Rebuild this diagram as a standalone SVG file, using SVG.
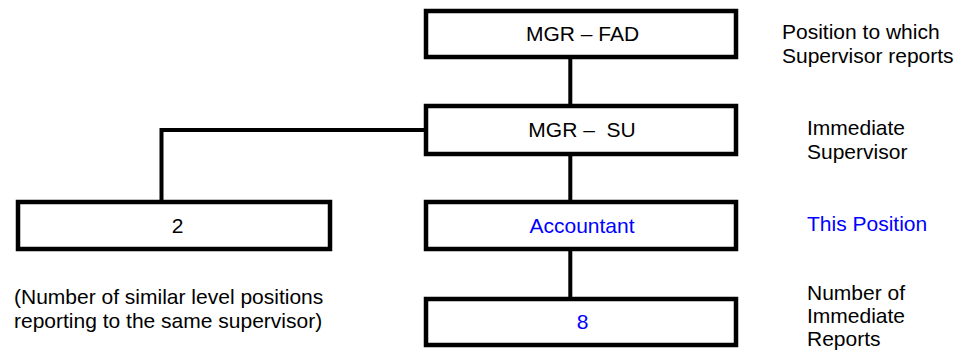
<svg xmlns="http://www.w3.org/2000/svg" width="966" height="352" viewBox="0 0 966 352">
<style>
.box{fill:#fff;stroke:#000;stroke-width:4.5}
.conn{fill:none;stroke:#000;stroke-width:4}
text{font-family:"Liberation Sans",Arial,sans-serif;font-size:21px;fill:#000;white-space:pre}
.c{text-anchor:middle}
.blue{fill:#0000ff}
</style>
<rect width="966" height="352" fill="#fff"/>
<g id="connectors">
<line class="conn" x1="570.3" y1="57" x2="570.3" y2="106"/>
<line class="conn" x1="570.3" y1="154" x2="570.3" y2="202"/>
<line class="conn" x1="570.3" y1="249" x2="570.3" y2="299"/>
<polyline class="conn" points="426,130 161.5,130 161.5,202"/>
</g>
<g id="mgr-fad">
<rect class="box" x="426" y="11" width="310" height="46"/>
<text class="c" x="582.5" y="41">MGR – FAD</text>
</g>
<g id="mgr-su">
<rect class="box" x="426" y="106" width="310" height="48"/>
<text class="c" x="582" y="137">MGR –  SU</text>
</g>
<g id="peers">
<rect class="box" x="18" y="202" width="312" height="47"/>
<text class="c" x="177.5" y="233">2</text>
</g>
<g id="accountant">
<rect class="box" x="426" y="202" width="310" height="47"/>
<text class="c blue" x="582" y="233">Accountant</text>
</g>
<g id="reports">
<rect class="box" x="426" y="299" width="310" height="46"/>
<text class="c blue" x="582.5" y="329">8</text>
</g>
<g id="labels">
<text x="782" y="39">Position to which</text>
<text x="782" y="63">Supervisor reports</text>
<text x="807" y="135">Immediate</text>
<text x="807" y="159">Supervisor</text>
<text class="blue" x="807" y="231">This Position</text>
<text x="807" y="300">Number of</text>
<text x="807" y="323">Immediate</text>
<text x="807" y="346">Reports</text>
<text x="14" y="304">(Number of similar level positions</text>
<text x="14" y="328">reporting to the same supervisor)</text>
</g>
</svg>
